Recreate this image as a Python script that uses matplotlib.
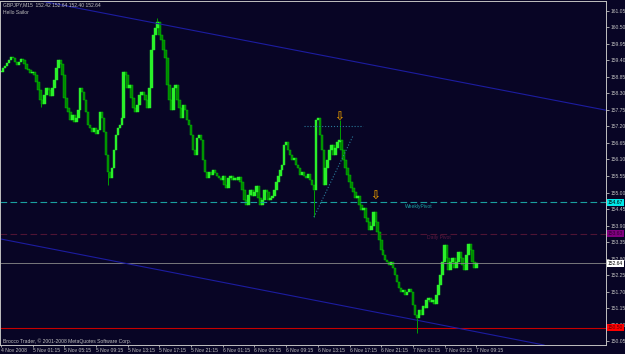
import numpy as np
import matplotlib
matplotlib.use("Agg")
import matplotlib.pyplot as plt
from matplotlib.transforms import blended_transform_factory

# GBPJPY M15 closes, one per bar (bar 0 = 4 Nov 2008 21:15)
closes_a = [159.02, 159.15, 159.22, 159.32, 159.42, 159.52, 159.48, 159.35, 159.25, 159.35,
            159.45, 159.42, 159.28, 159.12, 159.08, 158.98, 159.02, 158.92, 158.68, 158.42,
            158.08, 157.95, 158.25, 158.48, 158.42, 158.22, 158.48, 158.75, 159.15, 159.42,
            159.28, 158.92, 158.15, 157.82, 157.68, 157.42, 157.58, 157.35, 157.48, 157.75,
            158.48, 158.35, 158.08, 157.68, 157.25, 157.15, 157.02, 157.15, 156.95, 157.08]
closes_b = [157.68, 157.48, 157.02, 156.25, 155.68, 155.48, 155.82, 156.42, 156.92, 157.15,
            157.25, 157.48, 159.02, 158.92, 158.48, 158.58, 158.15, 157.82, 157.68, 157.92,
            158.25, 158.35, 158.25, 158.08, 157.82, 158.48, 159.75, 160.25, 160.48, 160.68,
            160.25, 160.08, 159.75, 159.48, 158.58, 158.08, 157.75, 158.48, 158.58, 158.08,
            157.82, 157.48, 157.92, 157.75, 157.42, 157.25, 156.92, 156.42, 156.25, 156.82]
closes_c = [156.92, 156.75, 156.08, 155.68, 155.48, 155.68, 155.58, 155.75, 155.65, 155.55,
            155.48, 155.42, 155.55, 155.25, 155.15, 155.48, 155.55, 155.42, 155.48, 155.42,
            155.52, 155.35, 155.08, 154.75, 154.58, 154.92, 155.08, 154.88, 155.02, 155.22,
            154.82, 154.58, 154.75, 155.08, 155.02, 154.75, 154.82, 154.88, 155.08, 155.35,
            155.55, 155.75, 155.92, 156.58, 156.68, 156.42, 156.25, 156.08, 156.15, 155.92]
closes_d = [155.82, 155.58, 155.68, 155.55, 155.48, 155.62, 155.42, 155.25, 155.08, 157.42,
            157.48, 156.92, 156.42, 155.25, 155.82, 156.08, 156.42, 156.58, 156.25, 156.48,
            156.68, 156.75, 156.42, 156.08, 155.82, 155.58, 155.35, 155.15, 155.02, 154.82,
            154.88, 154.58, 154.42, 154.48, 154.15, 154.02, 153.75, 153.88, 154.35, 154.02]
closes_e = [153.68, 153.42, 153.08, 152.92, 152.75, 152.68, 152.58, 152.68, 152.48, 152.25,
            152.02, 151.82, 151.68, 151.75, 151.58, 151.68, 151.78, 151.68, 151.25, 150.92,
            150.82, 151.08, 150.92, 151.22, 151.15, 151.42, 151.48, 151.35, 151.42, 151.28,
            151.58, 151.92, 152.25, 152.68, 153.25, 152.82, 152.42, 152.68, 152.82, 152.48,
            152.68, 153.02, 152.82, 152.58, 152.42, 152.92, 153.28, 153.08, 152.68, 152.48,
            152.64]
closes = closes_a + closes_b + closes_c + closes_d + closes_e

# notable wicks (bar index, extreme price)
wick_bars = [20, 54, 79, 158, 171, 210]
wick_prices = [157.85, 155.25, 160.82, 154.18, 157.42, 150.32]

# horizontal levels
weekly_pivot = 154.67
daily_pivot = 153.63
last_price = 152.64
red_level = 150.50

# channel lines (bar, price) anchor pairs
upper_channel = [(17, 161.42), (290, 157.94)]
lower_channel = [(0, 153.45), (240, 150.36)]

# hand-drawn objects
hline_bars = [153, 183]
hline_price = 157.22
diag_bars = [158, 178]
diag_prices = [154.18, 156.92]
arrow_bars = [171, 189]
arrow_prices = [157.52, 154.86]

y_ticks = [161.05, 160.50, 159.95, 159.40, 158.85, 158.30, 157.75, 157.20, 156.65, 156.10,
           155.55, 155.00, 154.45, 153.90, 153.35, 152.80, 152.25, 151.70, 151.15, 150.60, 150.05]
x_tick_bars = [0, 16, 32, 48, 64, 80, 96, 112, 128, 144, 160, 176, 192, 208, 224, 240]
x_tick_labels = ["4 Nov 2008", "5 Nov 01:15", "5 Nov 05:15", "5 Nov 09:15", "5 Nov 13:15",
                 "5 Nov 17:15", "5 Nov 21:15", "6 Nov 01:15", "6 Nov 05:15", "6 Nov 09:15",
                 "6 Nov 13:15", "6 Nov 17:15", "6 Nov 21:15", "7 Nov 01:15", "7 Nov 05:15",
                 "7 Nov 09:15"]

BG = "#080525"
GRAY = "#c0c0c0"
FS = 3.6
plt.rcParams["font.family"] = ["Liberation Sans", "DejaVu Sans"]

fig = plt.figure(figsize=(6.25, 3.54), dpi=100, facecolor=BG)
ax = fig.add_axes([0.0, 9 / 354, 606 / 625, 344 / 354], facecolor=BG)

x = np.arange(len(closes))
c = np.array(closes)
o = np.concatenate([[c[0]], c[:-1]])
lo = np.minimum(o, c)
hi = np.maximum(o, c)
h = np.maximum(hi - lo, 0.025)
bull = c >= o

# lines behind candles
ax.axhline(weekly_pivot, color="#1aa0a0", lw=0.8, ls=(0, (6, 3)))
ax.axhline(daily_pivot, color="#4e1434", lw=0.8, ls=(0, (6, 3)))
ax.axhline(last_price, color="#8a8a8a", lw=0.6)
ax.axhline(red_level, color="#c80000", lw=0.8)
ax.axline(upper_channel[0], upper_channel[1], color="#1c1ca0", lw=0.8)
ax.axline(lower_channel[0], lower_channel[1], color="#1c1ca0", lw=0.8)

# wicks
for b, p in zip(wick_bars, wick_prices):
    base = lo[b] if p < lo[b] else hi[b]
    ax.plot([b, b], [base, p], color="#00a000", lw=0.7, solid_capstyle="butt")

ax.bar(x[~bull], h[~bull], bottom=lo[~bull], width=1.3, color="#008800",
       edgecolor="#00c800", linewidth=0.3)
ax.bar(x[bull], h[bull], bottom=lo[bull], width=1.3, color="#2af02a",
       edgecolor="#2af02a", linewidth=0.3)

ax.plot(hline_bars, [hline_price, hline_price], color="#2a7a9a", lw=0.8, ls=":")
ax.plot(diag_bars, diag_prices, color="#2a7a9a", lw=0.8, ls=":")
for b, p in zip(arrow_bars, arrow_prices):
    ax.text(b, p, "\u21e9", color="#d08a00", fontsize=8.5, ha="center", va="center",
            family=["DejaVu Sans"], fontweight="bold")

ax.text(204, weekly_pivot - 0.06, "WeeklyPivot", color="#1aa0a0", fontsize=FS,
        va="top", ha="left")
ax.text(215, daily_pivot - 0.06, "Daily Pivot", color="#5a1a40", fontsize=FS,
        va="top", ha="left")

ax.set_xlim(-0.5, 305.5)
ax.set_ylim(149.92, 161.38)

ax.yaxis.tick_right()
ax.set_yticks(y_ticks)
ax.set_yticklabels([f"{v:.2f}" for v in y_ticks])
ax.set_xticks(x_tick_bars)
ax.set_xticklabels(x_tick_labels, ha="left")
ax.tick_params(axis="y", colors=GRAY, labelsize=FS, length=2.5, width=0.6, pad=0.9)
ax.tick_params(axis="x", colors=GRAY, labelsize=FS, length=1.5, width=0.6, pad=0.5)
for s in ax.spines.values():
    s.set_color(GRAY)
    s.set_linewidth(0.7)

# price boxes on the right axis
tr = blended_transform_factory(ax.transAxes, ax.transData)
for p, fc, tc in [(weekly_pivot, "#00e8e8", "#000000"), (daily_pivot, "#800080", "#300030"),
                  (last_price, "#ffffff", "#000000"), (red_level, "#ff0000", "#600000")]:
    ax.text(1.003, p, f"{p:.2f}", transform=tr, fontsize=FS, color=tc, va="center",
            ha="left", bbox=dict(facecolor=fc, edgecolor="none", pad=0.5))

fig.text(3 / 625, 1 - 5 / 354, "GBPJPY,M15  152.42 152.64 152.40 152.64", color=GRAY,
         fontsize=FS, va="center", ha="left")
fig.text(3 / 625, 1 - 12 / 354, "Hello Sailor", color=GRAY, fontsize=FS,
         va="center", ha="left")
fig.text(3 / 625, (354 - 341) / 354, "Brocco Trader, \u00a9 2001-2008 MetaQuotes Software Corp.",
         color=GRAY, fontsize=FS, va="center", ha="left")

fig.savefig("out.png", dpi=100, facecolor=BG)
